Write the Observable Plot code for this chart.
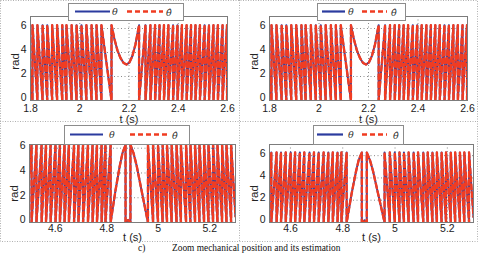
<!DOCTYPE html>
<html>
<head>
<meta charset="utf-8">
<script src="https://cdn.jsdelivr.net/npm/d3@7"></script>
<script src="https://cdn.jsdelivr.net/npm/@observablehq/plot@0.6"></script>
<style>
  html, body { margin: 0; padding: 0; background: #fff; }
  #wrap { position: relative; width: 480px; height: 254px; overflow: hidden; background: #fff; }
  .panel { position: absolute; }
  #overlay { position: absolute; left: 0; top: 0; pointer-events: none; }
</style>
</head>
<body>
<div id="wrap"></div>
<script>
// ---------- data ----------
const WRAP = 6.28;                       // angle wraps between 0 and ~2π rad
const yTicks = [0, 2, 4, 6];
const topTicksX = [1.8, 2, 2.2, 2.4, 2.6];
const topTickLabels = ["1.8", "2", "2.2", "2.4", "2.6"];
const bottomTicksX = [4.6, 4.8, 5, 5.2];
const bottomTickLabels = ["4.6", "4.8", "5", "5.2"];
const legendNames = ["θ", "θ\u0302"];

// top panels (1.8 s – 2.6 s): backward rotation, reversal near 2.19 s, forward rotation
const topStart = [1.8, 2.5];
const topWrapsBefore = [1.808, 1.828, 1.849, 1.868, 1.888, 1.908, 1.929, 1.946, 1.967, 1.987,
                        2.007, 2.027, 2.048, 2.068, 2.088, 2.129];
const topArcT = [2.129, 2.141, 2.153, 2.166, 2.178, 2.190, 2.202, 2.214, 2.226, 2.241];
const topArcV = [6.28, 5.10, 4.18, 3.52, 3.13, 3.00, 3.18, 3.73, 4.65, 6.28];
const topWrapsAfter = [2.241, 2.267, 2.287, 2.306, 2.324, 2.342, 2.360, 2.379, 2.397, 2.415,
                       2.434, 2.452, 2.470, 2.488, 2.507, 2.525, 2.543, 2.561, 2.580, 2.598];
const topEnd = [2.6, 0.7];

// bottom panels (4.5 s – 5.3 s): forward rotation, reversal near 4.88 s, backward rotation
const botStart = [4.5, 4.0];
const botWrapsBefore = [4.508, 4.527, 4.547, 4.564, 4.582, 4.601, 4.618, 4.636, 4.653, 4.673,
                        4.690, 4.708, 4.727, 4.745, 4.762, 4.780, 4.795, 4.815];
const botArcT = [4.815, 4.834, 4.850, 4.861, 4.873, 4.873, 4.883, 4.892, 4.892, 4.904, 4.916, 4.935, 4.960];
const botArcV = [0, 2.6, 4.5, 5.6, 6.28, 0, 0.2, 0, 6.28, 5.6, 4.6, 2.6, 0];
const botWrapsAfter = [4.960, 4.980, 4.999, 5.017, 5.034, 5.052, 5.071, 5.088, 5.108, 5.125,
                       5.143, 5.160, 5.178, 5.195, 5.213, 5.230, 5.248, 5.265, 5.283];
const botEnd = [5.3, 0.5];

// ---------- build point tables ----------
function buildTop() {
  const p = [{t: topStart[0], v: topStart[1]}];
  for (const w of topWrapsBefore) { p.push({t: w, v: 0}); p.push({t: w, v: WRAP}); }
  topArcT.forEach((t, i) => p.push({t, v: topArcV[i]}));
  topWrapsAfter.forEach((w, i) => {
    if (i > 0) p.push({t: w, v: WRAP});
    p.push({t: w, v: 0});
  });
  p.push({t: topEnd[0], v: topEnd[1]});
  return p;
}
function buildBottom() {
  const p = [{t: botStart[0], v: botStart[1]}];
  for (const w of botWrapsBefore) { p.push({t: w, v: WRAP}); p.push({t: w, v: 0}); }
  botArcT.forEach((t, i) => p.push({t, v: botArcV[i]}));
  botWrapsAfter.forEach((w, i) => {
    if (i > 0) p.push({t: w, v: 0});
    p.push({t: w, v: WRAP});
  });
  p.push({t: botEnd[0], v: botEnd[1]});
  return p;
}
const topData = buildTop();
const botData = buildBottom();

const BLUE = "#2b3b9f";
const RED = "#f03c22";

function panel(o) {
  return Plot.plot({
    width: o.width, height: o.height,
    marginLeft: o.ml, marginRight: o.mr, marginTop: o.mt, marginBottom: o.mb,
    x: {domain: o.xDomain},
    y: {domain: o.yDomain},
    style: {fontFamily: "'Liberation Sans', Arial, sans-serif", fontSize: "10.5px", color: "#222", background: "transparent", overflow: "visible"},
    marks: [
      Plot.gridX(o.xTicks, {stroke: "#8a8a8a", strokeOpacity: 1, strokeDasharray: "1,2.5"}),
      Plot.gridY(yTicks, {stroke: "#8a8a8a", strokeOpacity: 1, strokeDasharray: "1,2.5"}),
      Plot.line(o.data, {x: "t", y: "v", stroke: BLUE, strokeWidth: 2, clip: true}),
      Plot.line(o.data, {x: "t", y: "v", stroke: RED, strokeWidth: 2.4, strokeDasharray: "5,3", clip: true}),
      Plot.frame({stroke: "#7c7c7c"}),
      Plot.axisX(o.xTicks, {tickSize: 0, tickPadding: o.tickPad, label: null,
        tickFormat: d => o.xLabels[o.xTicks.indexOf(d)], fontSize: 10.5}),
      Plot.axisY(yTicks, {tickSize: 0, tickPadding: 4, label: null, fontSize: 10.5, dy: -2.5}),
      Plot.text(["t (s)"], {text: d => d, frameAnchor: "bottom", lineAnchor: "middle", textAnchor: "middle", dy: o.tDy, fontSize: 11}),
      Plot.text(["rad"], {text: d => d, frameAnchor: "left", lineAnchor: "middle", textAnchor: "middle", dx: -15, dy: o.radDy, rotate: -90, fontSize: 11.5})
    ]
  });
}

const wrap = document.getElementById("wrap");
const panels = [
  {left: 0, top: 0, width: 240, height: 121, ml: 30, mr: 13, mt: 16, mb: 21,
   xDomain: [1.8, 2.6], yDomain: [0, 7], xTicks: topTicksX, xLabels: topTickLabels,
   data: topData, tickPad: 4.5, tDy: 19, radDy: 3},
  {left: 240, top: 0, width: 240, height: 121, ml: 29, mr: 13, mt: 16, mb: 21,
   xDomain: [1.8, 2.6], yDomain: [0, 7], xTicks: topTicksX, xLabels: topTickLabels,
   data: topData, tickPad: 4.5, tDy: 19, radDy: 3},
  {left: 0, top: 121, width: 240, height: 121, ml: 29, mr: 5, mt: 23, mb: 20,
   xDomain: [4.5, 5.3], yDomain: [0, 6.3], xTicks: bottomTicksX, xLabels: bottomTickLabels,
   data: botData, tickPad: 2, tDy: 15, radDy: 10},
  {left: 240, top: 121, width: 240, height: 121, ml: 29, mr: 7, mt: 23, mb: 20,
   xDomain: [4.52, 5.3], yDomain: [0, 7], xTicks: bottomTicksX, xLabels: bottomTickLabels,
   data: botData, tickPad: 2, tDy: 15, radDy: 10}
];
for (const o of panels) {
  const el = panel(o);
  el.classList.add("panel");
  el.style.left = o.left + "px";
  el.style.top = o.top + "px";
  wrap.appendChild(el);
}

// ---------- overlay: legends, cell borders, caption ----------
const NS = "http://www.w3.org/2000/svg";
const ov = document.createElementNS(NS, "svg");
ov.setAttribute("id", "overlay");
ov.setAttribute("width", 480);
ov.setAttribute("height", 254);
wrap.appendChild(ov);
function add(tag, attrs, txt) {
  const e = document.createElementNS(NS, tag);
  for (const k in attrs) e.setAttribute(k, attrs[k]);
  if (txt != null) e.textContent = txt;
  ov.appendChild(e);
  return e;
}
// dotted cell borders
const dot = {stroke: "#b0b0b0", "stroke-width": 1, "stroke-dasharray": "1,1.5", fill: "none"};
add("rect", Object.assign({x: 0.5, y: 0.5, width: 477, height: 241}, dot));
add("line", Object.assign({x1: 239.5, y1: 0, x2: 239.5, y2: 242}, dot));
add("line", Object.assign({x1: 0, y1: 121.5, x2: 478, y2: 121.5}, dot));

const legends = [
  {x: 68, y: 3, w: 115, h: 17, b0: 75, b1: 110, t1: 112, r0: 127, r1: 163, t2: 166},
  {x: 317, y: 3, w: 88, h: 17, b0: 322, b1: 345, t1: 348, r0: 362, r1: 387, t2: 391},
  {x: 64, y: 125, w: 125, h: 19, b0: 70, b1: 103, t1: 109, r0: 130, r1: 167, t2: 172},
  {x: 313, y: 125, w: 90, h: 19, b0: 317, b1: 343, t1: 348, r0: 362, r1: 387, t2: 393}
];
const greek = "'DejaVu Serif', 'Liberation Serif', serif";
const serif = "'Liberation Serif', 'Times New Roman', serif";
for (const L of legends) {
  const cy = L.y + L.h / 2;
  add("rect", {x: L.x + 0.5, y: L.y + 0.5, width: L.w, height: L.h, fill: "#fff", stroke: "#8c8c8c", "stroke-width": 1});
  add("line", {x1: L.b0, y1: cy, x2: L.b1, y2: cy, stroke: BLUE, "stroke-width": 2.2});
  add("text", {x: L.t1, y: cy + 3.5, "font-family": greek, "font-style": "italic", "font-size": 9.5, fill: "#333"}, legendNames[0]);
  add("line", {x1: L.r0, y1: cy, x2: L.r1, y2: cy, stroke: RED, "stroke-width": 2.4, "stroke-dasharray": "5,3"});
  add("text", {x: L.t2, y: cy + 4, "font-family": greek, "font-style": "italic", "font-size": 9.5, fill: "#333"}, legendNames[1]);
}
// caption
const capFont = {"font-family": serif, "font-size": 9.4, fill: "#111"};
add("text", Object.assign({x: 138, y: 251}, capFont), "c)");
add("text", Object.assign({x: 172, y: 251}, capFont), "Zoom mechanical position and its estimation");
</script>
</body>
</html>
